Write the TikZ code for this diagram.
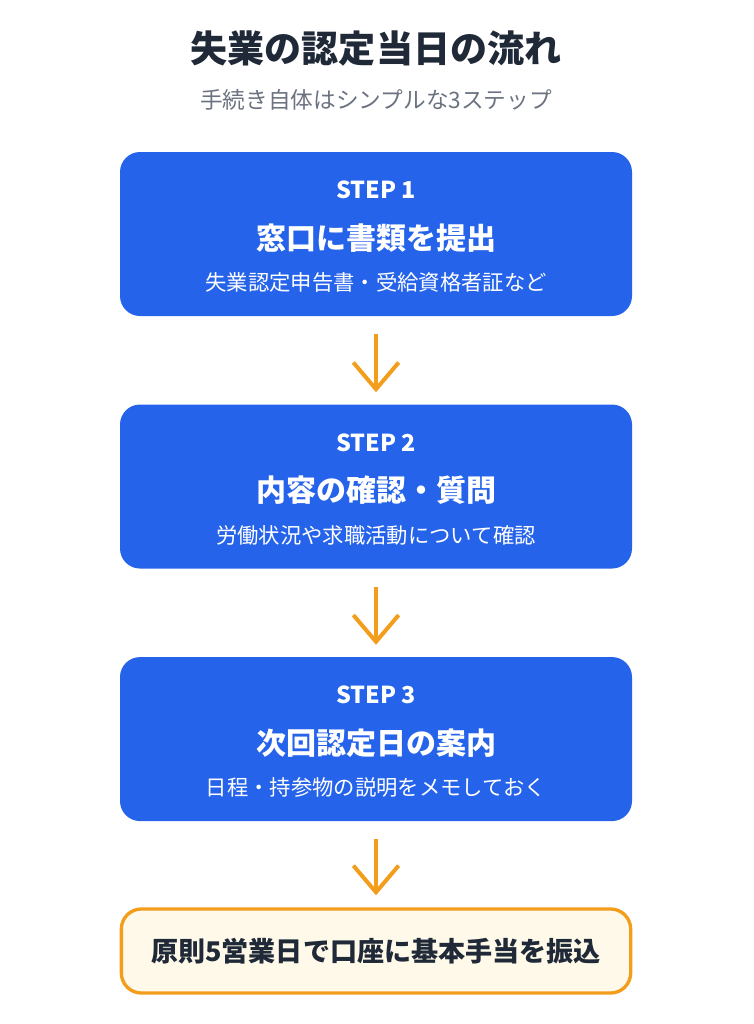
\documentclass[tikz,border=0pt]{standalone}
\usepackage{fontspec}
\setmainfont{Noto Sans CJK JP}
\usepackage{xcolor}
\usepackage{tikz}
\usetikzlibrary{positioning,arrows.meta}
\definecolor{stepblue}{HTML}{2563EB}
\definecolor{flowamber}{HTML}{F29E1C}
\definecolor{notecream}{HTML}{FEF9E8}
\definecolor{titleink}{HTML}{1F2937}
\definecolor{subgray}{HTML}{6B7280}

\begin{document}
\begin{tikzpicture}[
	stepbox/.style={fill=stepblue, draw=none, rounded corners=15pt, minimum width=384pt, minimum height=123pt, inner sep=0pt},
	steplbl/.style={text=white, font=\fontsize{17.5}{20}\selectfont\bfseries},
	stephead/.style={text=white, font=\fontsize{22.5}{26}\selectfont\bfseries},
	stepnote/.style={text=white, font=\fontsize{16}{18}\selectfont},
	notebox/.style={fill=notecream, draw=flowamber, line width=2.5pt, rounded corners=15pt, minimum width=382pt, minimum height=63pt, inner sep=0pt, text=titleink, font=\fontsize{20.3}{24}\selectfont\bfseries},
	flowarrow/.style={draw=flowamber, line width=3pt, -{Straight Barb[length=20pt,width=34pt]}, shorten <=13.5pt, shorten >=9pt}
]
	\useasboundingbox (0,0) rectangle (564.75pt,-768pt);
	% title
	\node[text=titleink, font=\fontsize{27.8}{32}\selectfont\bfseries] (title) at (282pt,-36.5pt) {失業の認定当日の流れ};
	\node[text=subgray, font=\fontsize{17}{20}\selectfont] (subtitle) at (282pt,-75pt) {手続き自体はシンプルな3ステップ};
	% steps
	\node[stepbox] (s1) at (282pt,-175.5pt) {};
	\node[stepbox, below=66pt of s1] (s2) {};
	\node[stepbox, below=66pt of s2] (s3) {};
	\node[notebox, below=64.5pt of s3] (done) {原則5営業日で口座に基本手当を振込};
	% texts
	\node[steplbl] (l1) at ([yshift=33pt]s1.center) {STEP 1};
	\node[stephead] (h1) at ([yshift=-3pt]s1.center) {窓口に書類を提出};
	\node[stepnote] (n1) at ([yshift=-36.5pt]s1.center) {失業認定申告書・受給資格者証など};
	\node[steplbl] (l2) at ([yshift=33pt]s2.center) {STEP 2};
	\node[stephead] (h2) at ([yshift=-3pt]s2.center) {内容の確認・質問};
	\node[stepnote] (n2) at ([yshift=-36.5pt]s2.center) {労働状況や求職活動について確認};
	\node[steplbl] (l3) at ([yshift=33pt]s3.center) {STEP 3};
	\node[stephead] (h3) at ([yshift=-3pt]s3.center) {次回認定日の案内};
	\node[stepnote] (n3) at ([yshift=-36.5pt]s3.center) {日程・持参物の説明をメモしておく};
	% arrows
	\draw[flowarrow] (s1.south) -- (s2.north);
	\draw[flowarrow] (s2.south) -- (s3.north);
	\draw[flowarrow] (s3.south) -- (done.north);
\end{tikzpicture}
\end{document}
